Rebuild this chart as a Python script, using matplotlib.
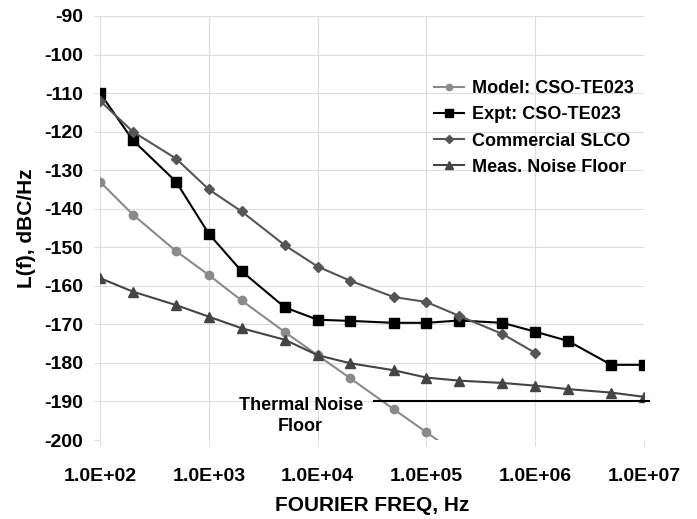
import numpy as np
import matplotlib.pyplot as plt

plt.rcParams['font.family'] = ['Liberation Sans', 'DejaVu Sans']
plt.rcParams['font.weight'] = 'bold'
plt.rcParams['axes.unicode_minus'] = False

# data
freq_model = [1e2, 2e2, 5e2, 1e3, 2e3, 5e3, 1e4, 2e4, 5e4, 1e5, 2e5]
model = [-133, -141.5, -151, -157.2, -163.8, -172, -178, -184, -192, -198, -204]

freq_expt = [1e2, 2e2, 5e2, 1e3, 2e3, 5e3, 1e4, 2e4, 5e4, 1e5, 2e5, 5e5, 1e6, 2e6, 5e6, 1e7]
expt = [-110, -122.2, -133, -146.5, -156.2, -165.6, -168.8, -169.1, -169.6, -169.6, -169.0, -169.6, -171.9, -174.3, -180.5, -180.5]

freq_comm = [1e2, 2e2, 5e2, 1e3, 2e3, 5e3, 1e4, 2e4, 5e4, 1e5, 2e5, 5e5, 1e6]
comm = [-112, -120, -127, -135, -140.7, -149.5, -155, -158.7, -162.9, -164.2, -167.8, -172.5, -177.4]

freq_floor = [1e2, 2e2, 5e2, 1e3, 2e3, 5e3, 1e4, 2e4, 5e4, 1e5, 2e5, 5e5, 1e6, 2e6, 5e6, 1e7]
floor = [-158, -161.5, -165, -168, -171, -174, -178, -180.1, -181.9, -183.8, -184.6, -185.2, -185.9, -186.8, -187.7, -188.8]

thermal_f = [3.3e4, 1.1e7]
thermal_level = -190

fig = plt.figure(figsize=(6.97, 5.19), dpi=100)
ax = fig.add_axes([0.1435, 0.1522, 0.7805, 0.817])

ax.plot(freq_model, model, color='#8a8a8a', marker='o', ms=6, lw=1.5, label='Model: CSO-TE023')
ax.plot(freq_expt, expt, color='black', marker='s', ms=7.5, lw=1.5, label='Expt: CSO-TE023')
ax.plot(freq_comm, comm, color='#555555', marker='D', ms=5, lw=1.5, label='Commercial SLCO')
ax.plot(freq_floor, floor, color='#444444', marker='^', ms=7.5, lw=1.5, label='Meas. Noise Floor')

ax.plot(thermal_f, [thermal_level, thermal_level], color='black', lw=1.5, clip_on=False)
ax.text(2.6e4, -193.8, 'Thermal Noise\nFloor', ha='right', va='center', ma='center',
        fontsize=13, fontweight='bold', linespacing=1.3)

ax.set_xscale('log')
ax.set_xlim(1e2, 1e7)
ax.set_ylim(-200, -90)
ax.set_yticks(np.arange(-200, -89, 10))
ax.set_xticks([1e2, 1e3, 1e4, 1e5, 1e6, 1e7])
ax.set_xticklabels(['1.0E+02', '1.0E+03', '1.0E+04', '1.0E+05', '1.0E+06', '1.0E+07'])
ax.minorticks_off()
ax.grid(True, color='#dddddd', lw=0.8)
ax.set_axisbelow(True)
for s in ax.spines.values():
    s.set_visible(False)
ax.tick_params(axis='both', colors='#dddddd', labelcolor='black', labelsize=14, length=4)
ax.tick_params(axis='x', pad=16)
ax.tick_params(axis='y', pad=8)
for lab in ax.get_xticklabels() + ax.get_yticklabels():
    lab.set_fontweight('bold')

ax.set_xlabel('FOURIER FREQ, Hz', fontsize=15, fontweight='bold', labelpad=8)
ax.set_ylabel('L(f), dBC/Hz', fontsize=15, fontweight='bold', labelpad=6)

leg = ax.legend(loc='upper left', bbox_to_anchor=(0.6, 0.865), frameon=False,
                fontsize=13, handlelength=1.7, handletextpad=0.4, labelspacing=0.5,
                borderaxespad=0, markerscale=0.75)
for t in leg.get_texts():
    t.set_fontweight('bold')

fig.savefig('out.png', dpi=100)
